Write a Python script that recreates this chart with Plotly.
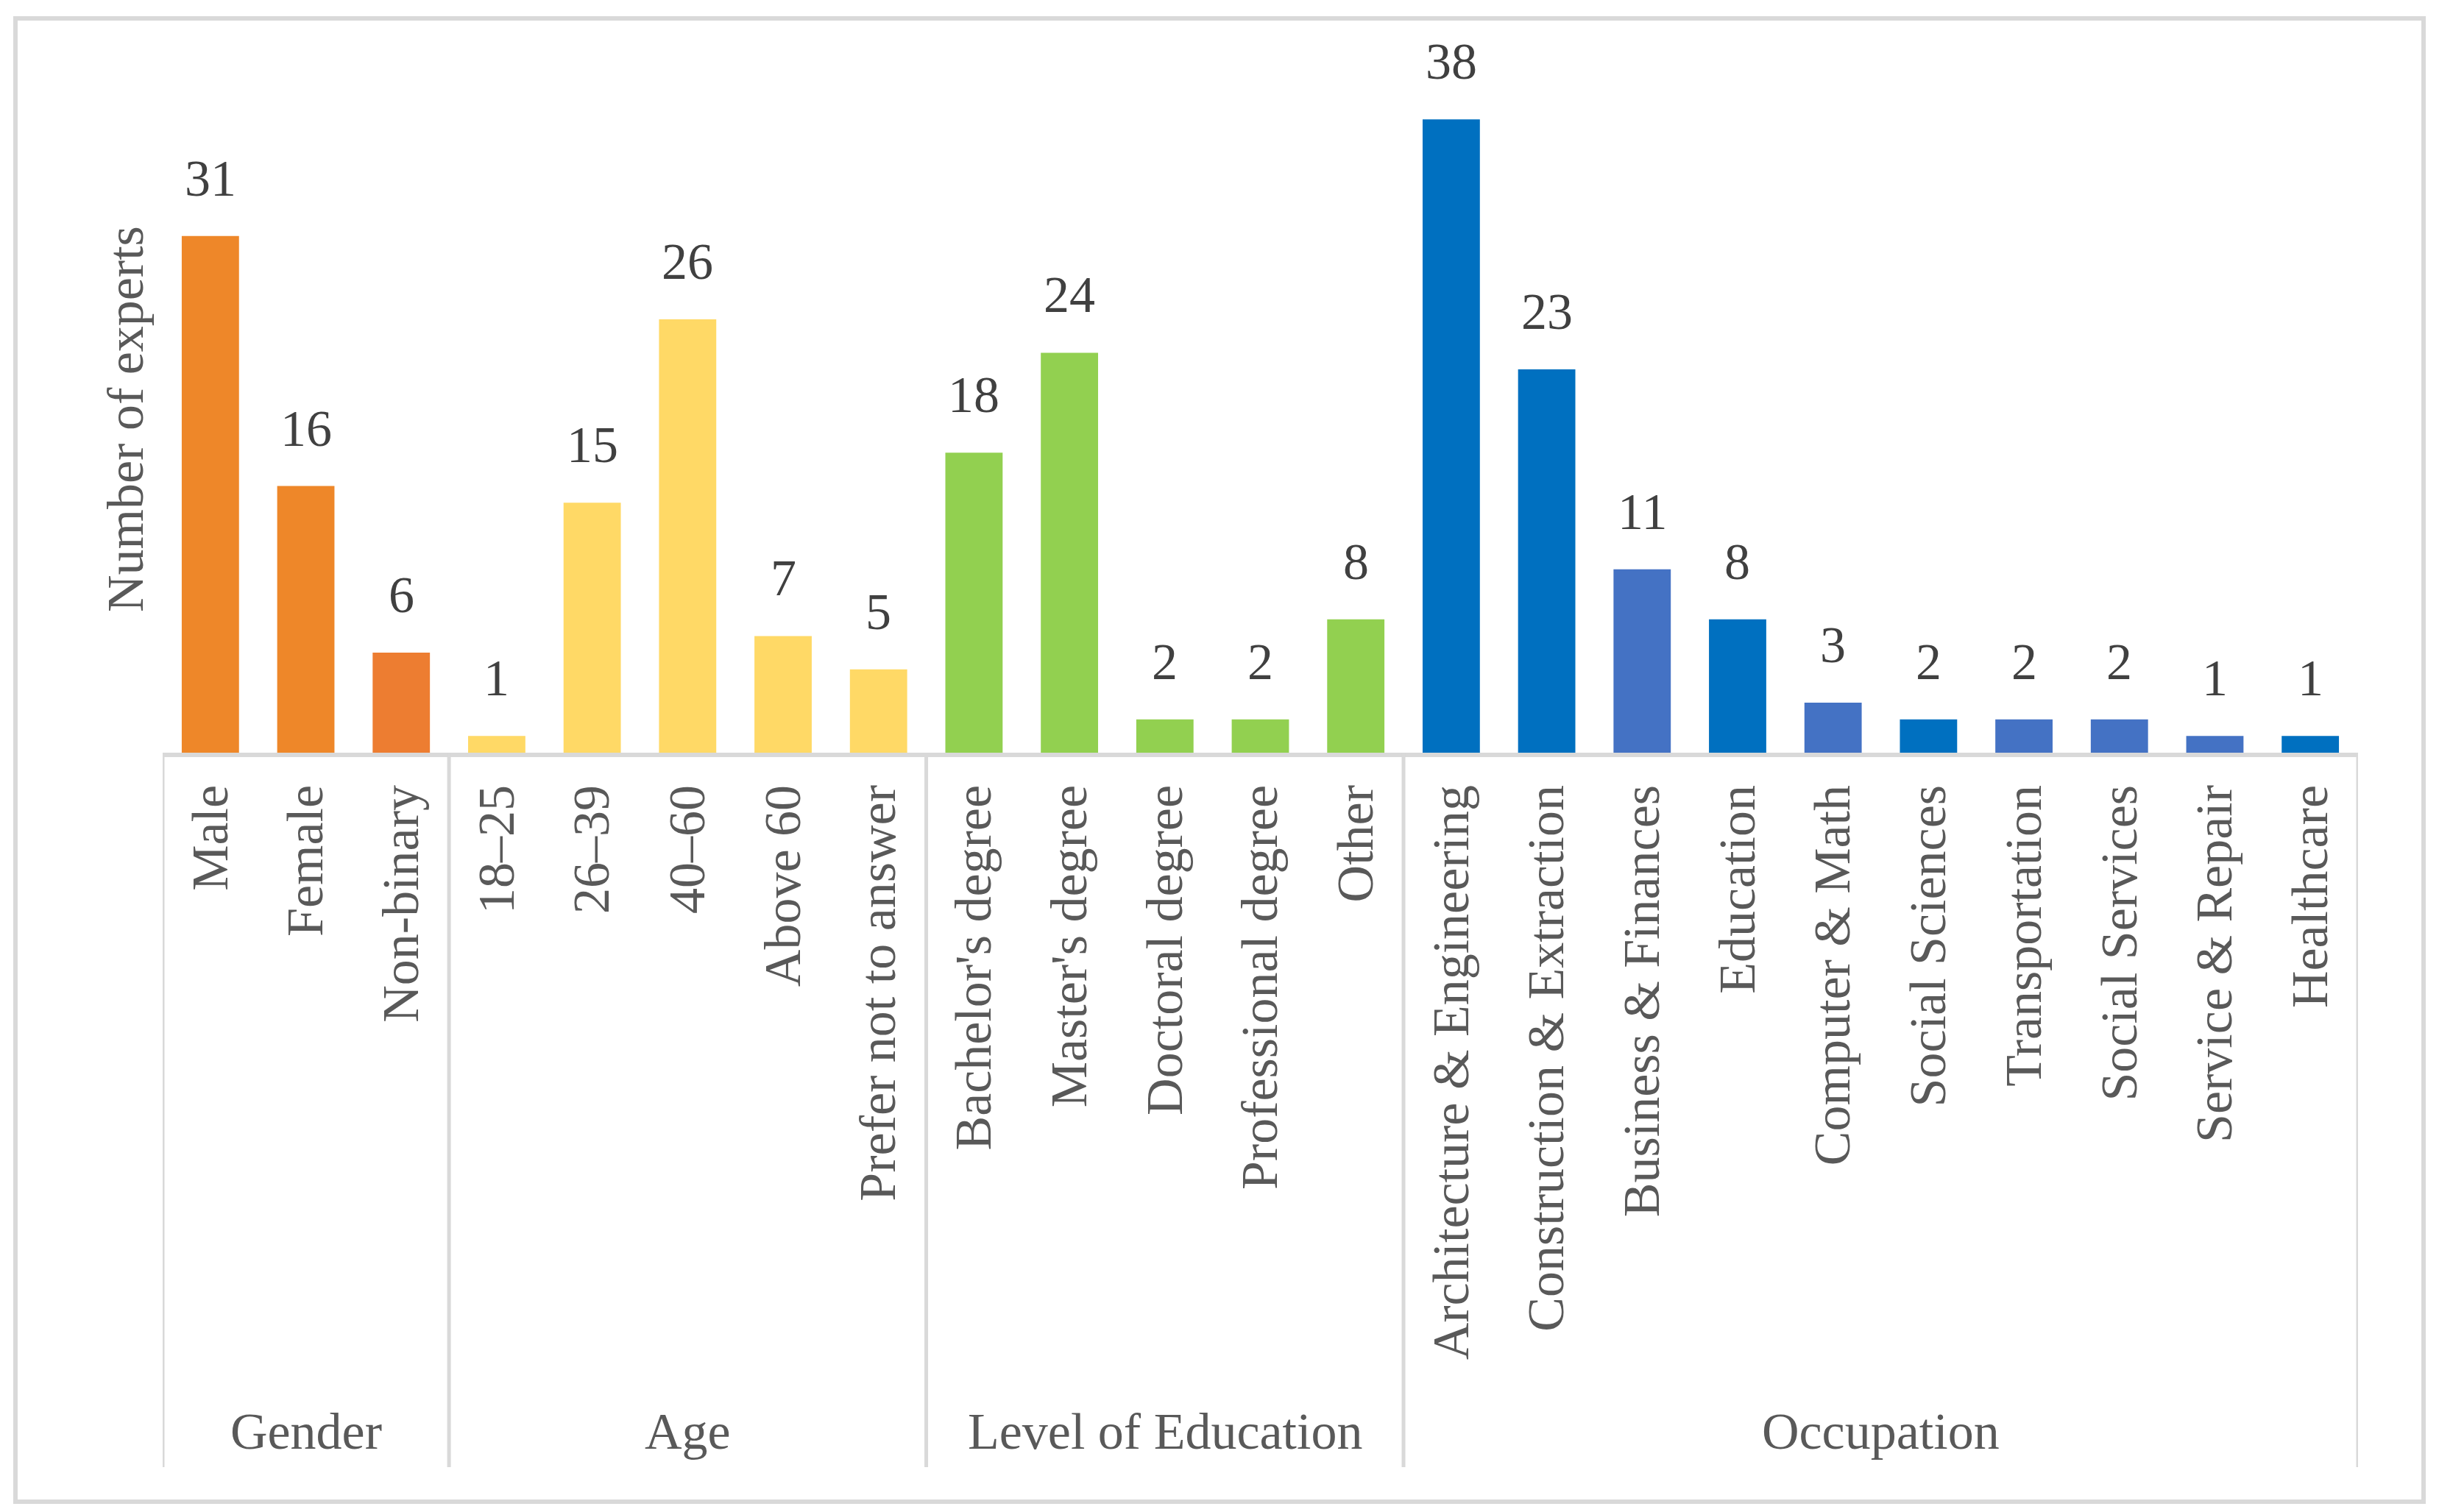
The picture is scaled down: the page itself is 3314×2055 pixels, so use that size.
import plotly.graph_objects as go

categories = ["Male", "Female", "Non-binary",
              "18–25", "26–39", "40–60", "Above 60", "Prefer not to answer",
              "Bachelor's degree", "Master's degree", "Doctoral degree", "Professional degree", "Other",
              "Architecture & Engineering", "Construction & Extraction", "Business & Finances", "Education",
              "Computer & Math", "Social Sciences", "Transportation", "Social Services", "Service & Repair",
              "Healthcare"]
values = [31, 16, 6,
          1, 15, 26, 7, 5,
          18, 24, 2, 2, 8,
          38, 23, 11, 8, 3, 2, 2, 2, 1, 1]
bar_colors = ["#EE8729", "#EE8729", "#ED7D31",
              "#FFD966", "#FFD966", "#FFD966", "#FFD966", "#FFD966",
              "#92D050", "#92D050", "#92D050", "#92D050", "#92D050",
              "#0070C0", "#0070C0", "#4472C4", "#0070C0", "#4472C4", "#0070C0", "#4472C4", "#4472C4",
              "#4472C4", "#0070C0"]
groups = ["Gender", "Age", "Level of Education", "Occupation"]
group_sizes = [3, 5, 5, 10]
y_title = "Number of experts"

FONT = "Liberation Serif"
FS = 70
W, H = 3314, 2055
ML, MR, MT, MB = 221, 110, 117, 1032
pw, ph = W - ML - MR, H - MT - MB

x = list(range(len(categories)))

fig = go.Figure()
fig.add_trace(go.Bar(
    x=x, y=values, marker=dict(color=bar_colors, line=dict(width=0)),
    hoverinfo="skip", showlegend=False,
))

# value labels
for xi, v in zip(x, values):
    fig.add_annotation(x=xi, y=v, xref="x", yref="y", text=str(v), showarrow=False,
                       yanchor="bottom", yshift=38,
                       font=dict(family=FONT, size=FS, color="#404040"))

def px_to_paper_y(py):
    return (H - MB - py) / ph

def px_to_paper_x(pxx):
    return (pxx - ML) / pw

line_col = "#D9D9D9"
bottom_y = px_to_paper_y(1994)
# group separators and labels
start = -0.5
bounds = [start]
for s in group_sizes:
    bounds.append(bounds[-1] + s)
for b in bounds:
    fig.add_shape(type="line", xref="x", yref="paper", x0=b, x1=b, y0=0, y1=bottom_y,
                  line=dict(color=line_col, width=5))
for g, a, b in zip(groups, bounds[:-1], bounds[1:]):
    fig.add_annotation(x=(a + b) / 2, y=px_to_paper_y(1945), xref="x", yref="paper", text=g,
                       showarrow=False, yanchor="middle",
                       font=dict(family=FONT, size=FS, color="#595959"))

# y-axis title
fig.add_annotation(x=px_to_paper_x(170), y=0.5, xref="paper", yref="paper", text=y_title,
                   textangle=-90, showarrow=False, xanchor="center", yanchor="middle",
                   font=dict(family=FONT, size=FS, color="#595959"))

# outer border
fig.add_shape(type="rect", xref="paper", yref="paper",
              x0=px_to_paper_x(21), x1=px_to_paper_x(3293),
              y0=px_to_paper_y(2041), y1=px_to_paper_y(25),
              line=dict(color=line_col, width=6))

fig.update_layout(
    width=W, height=H,
    margin=dict(l=ML, r=MR, t=MT, b=MB),
    paper_bgcolor="white", plot_bgcolor="white",
    bargap=0.4,
    xaxis=dict(range=[-0.5, len(categories) - 0.5], tickmode="array", tickvals=x, ticktext=categories,
               tickangle=-90, ticks="", showline=True, linecolor=line_col, linewidth=6,
               showgrid=False, zeroline=False, ticklabelstandoff=10,
               tickfont=dict(family=FONT, size=FS, color="#595959")),
    yaxis=dict(range=[0, 40], visible=False, showgrid=False, zeroline=False),
)

fig.write_html("out.html", config={"displayModeBar": False},
               post_script="document.body.style.margin='0';")
